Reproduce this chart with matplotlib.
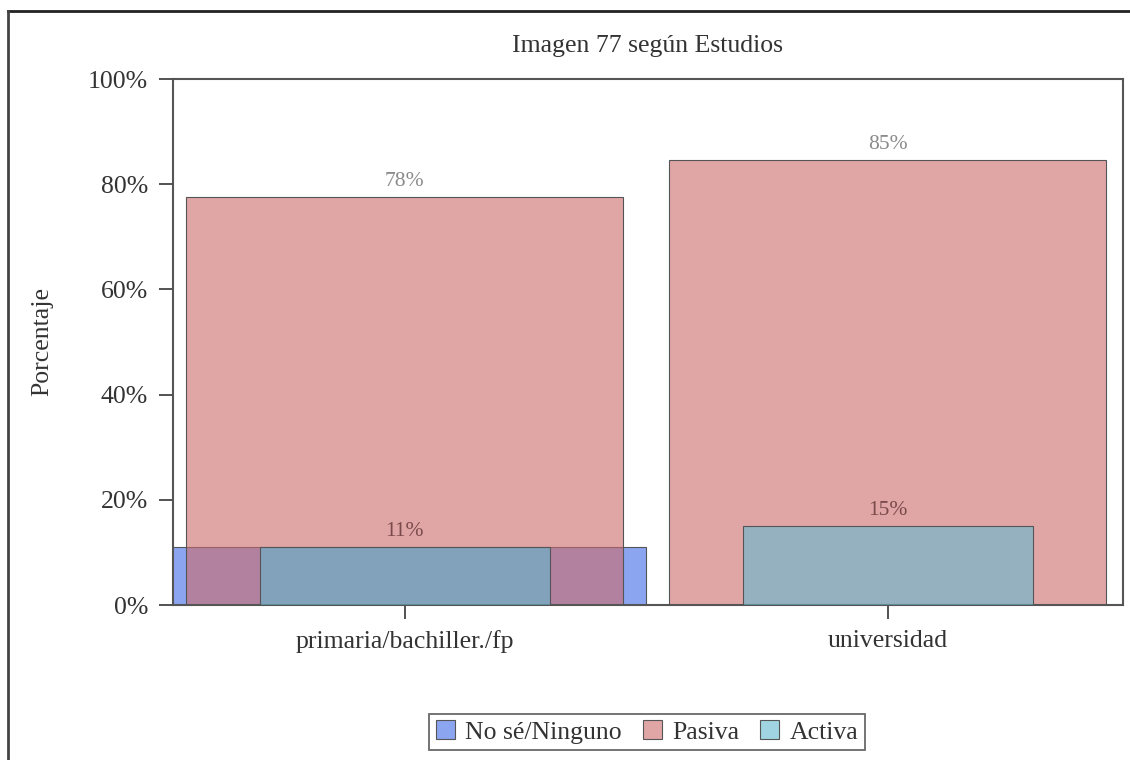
import matplotlib
matplotlib.use('Agg')
import matplotlib.pyplot as plt
from matplotlib.lines import Line2D
from matplotlib.ticker import FuncFormatter

plt.rcParams['font.family'] = ['Liberation Serif', 'DejaVu Serif']

# ── Data ──────────────────────────────────────────────────────────────────────
categories = ['primaria/bachiller./fp', 'universidad']
series_names = ['No sé/Ninguno', 'Pasiva', 'Activa']
no_se = [11.0, 0.0]
pasiva = [77.6, 84.6]
activa = [11.0, 15.0]

# ── Style ─────────────────────────────────────────────────────────────────────
BLUE = (0.25, 0.41, 0.90, 0.6)
RED = (0.80, 0.41, 0.41, 0.6)
TEAL = (0.39, 0.72, 0.81, 0.6)
EDGE = '#555555'
TXT = '#333333'

fig = plt.figure(figsize=(11.3, 7.6), dpi=100, facecolor='white')
ax = fig.add_axes([173 / 1130, 1 - 605 / 760, 950 / 1130, 526 / 760])

x = list(range(len(categories)))
ax.bar(x, no_se, width=1.0, color=BLUE, edgecolor=EDGE, linewidth=0.8,
       zorder=1, label=series_names[0])
ax.bar(x, pasiva, width=0.905, color=RED, edgecolor=EDGE, linewidth=0.8,
       zorder=2, label=series_names[1])
ax.bar(x, activa, width=0.6, color=TEAL, edgecolor=EDGE, linewidth=0.8,
       zorder=3, label=series_names[2])

# value labels
for xi, v in zip(x, pasiva):
    ax.text(xi, v + 1.2, f'{v:.0f}%', ha='center', va='bottom',
            fontsize=15.5, color='#8a8a8a', zorder=5)
for xi, v in zip(x, activa):
    ax.text(xi, v + 1.2, f'{v:.0f}%', ha='center', va='bottom',
            fontsize=15.5, color='#7a4a4a', zorder=5)

ax.set_xlim(-0.48, 1.487)
ax.set_ylim(0, 100)
ax.set_yticks([0, 20, 40, 60, 80, 100])
ax.yaxis.set_major_formatter(FuncFormatter(lambda v, p: f'{v:.0f}%'))
ax.set_xticks(x)
ax.set_xticklabels(categories)
ax.tick_params(axis='both', direction='out', length=10, width=1.3,
               color='#444444', labelsize=18.5, labelcolor=TXT, pad=8)
for s in ax.spines.values():
    s.set_color('#555555')
    s.set_linewidth(1.5)

ax.set_ylabel('Porcentaje', fontsize=18.5, color=TXT)
ax.yaxis.set_label_coords(-120 / 950, 0.5)
fig.text(648 / 1130, 1 - 46 / 760, 'Imagen 77 según Estudios',
         ha='center', va='center', fontsize=18.5, color=TXT)

leg = ax.legend(loc='center', bbox_to_anchor=(647 / 1130, 1 - 732 / 760),
                bbox_transform=fig.transFigure, ncol=3, frameon=True,
                fancybox=False, fontsize=18.5, handlelength=0.75,
                handleheight=0.75, handletextpad=0.4, columnspacing=0.8,
                borderpad=0.25, labelcolor=TXT)
leg.get_frame().set_edgecolor('#444444')
leg.get_frame().set_linewidth(1.3)

# image frame (top and left)
fig.add_artist(Line2D([8 / 1130, 1], [1 - 11 / 760, 1 - 11 / 760],
                      transform=fig.transFigure, color='#222222', lw=2))
fig.add_artist(Line2D([8 / 1130, 8 / 1130], [0, 1 - 11 / 760],
                      transform=fig.transFigure, color='#444444', lw=2))

fig.savefig('out.png', dpi=100, facecolor='white')
